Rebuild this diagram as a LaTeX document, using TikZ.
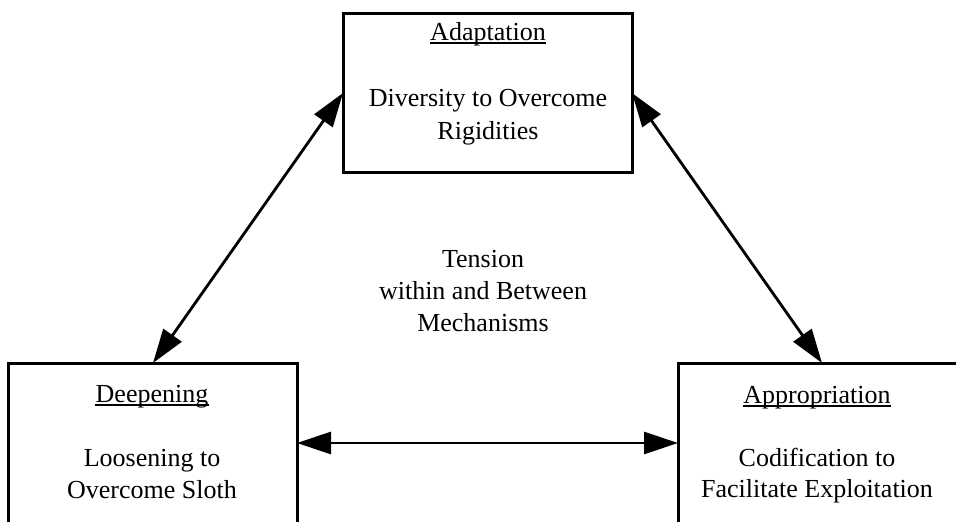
\documentclass[tikz,border=0pt]{standalone}
\usepackage{fontspec}
\setmainfont{Liberation Serif}
\usetikzlibrary{arrows.meta}
\begin{document}
\begin{tikzpicture}[x=1pt,y=-1pt,
  boxline/.style={draw=black,line width=3pt},
  lbl/.style={font=\fontsize{26}{32}\selectfont,align=center,inner sep=0pt},
  ttl/.style={font=\fontsize{26}{32}\selectfont,inner sep=0pt,anchor=base},
  uline/.style={line width=1.1pt},
  link/.style={line width=2.8pt,{Triangle[length=34pt,width=22pt]}-{Triangle[length=34pt,width=22pt]},shorten <=0pt,shorten >=0pt}]
\useasboundingbox (0,0) rectangle (956,522);
\clip (0,0) rectangle (956,522);
% boxes
\draw[boxline] (343,13) rectangle (632,172);
\draw[boxline] (8,363) rectangle (297,540);
\draw[boxline] (678,363) rectangle (970,540);
\coordinate (tl) at (343,93);
\coordinate (tr) at (632,93);
\coordinate (lt) at (153,363);
\coordinate (rt) at (822,363);
\coordinate (lr) at (297,443);
\coordinate (rl) at (678,443);
% titles
\node[ttl] (atitle) at (488,40) {Adaptation};
\node[ttl] (dtitle) at (152,402) {Deepening};
\node[ttl] (ptitle) at (817,403) {Appropriation};
\foreach \t in {atitle,dtitle,ptitle}
  \draw[uline] ([yshift=-3pt]\t.base west) -- ([yshift=-3pt]\t.base east);
% bodies
\node[lbl,font=\fontsize{26}{33}\selectfont] (abody) at (488,117.5) {Diversity to Overcome\\Rigidities};
\node[lbl] (dbody) at (152,474) {Loosening to\\Overcome Sloth};
\node[lbl,font=\fontsize{26}{31}\selectfont] (pbody) at (817,476) {Codification to\\Facilitate Exploitation};
\node[lbl] (center) at (483,291) {Tension\\within and Between\\Mechanisms};
% connectors
\draw[link] (tl) -- (lt);
\draw[link] (tr) -- (rt);
\draw[link] (lr) -- (rl);
\end{tikzpicture}
\end{document}
